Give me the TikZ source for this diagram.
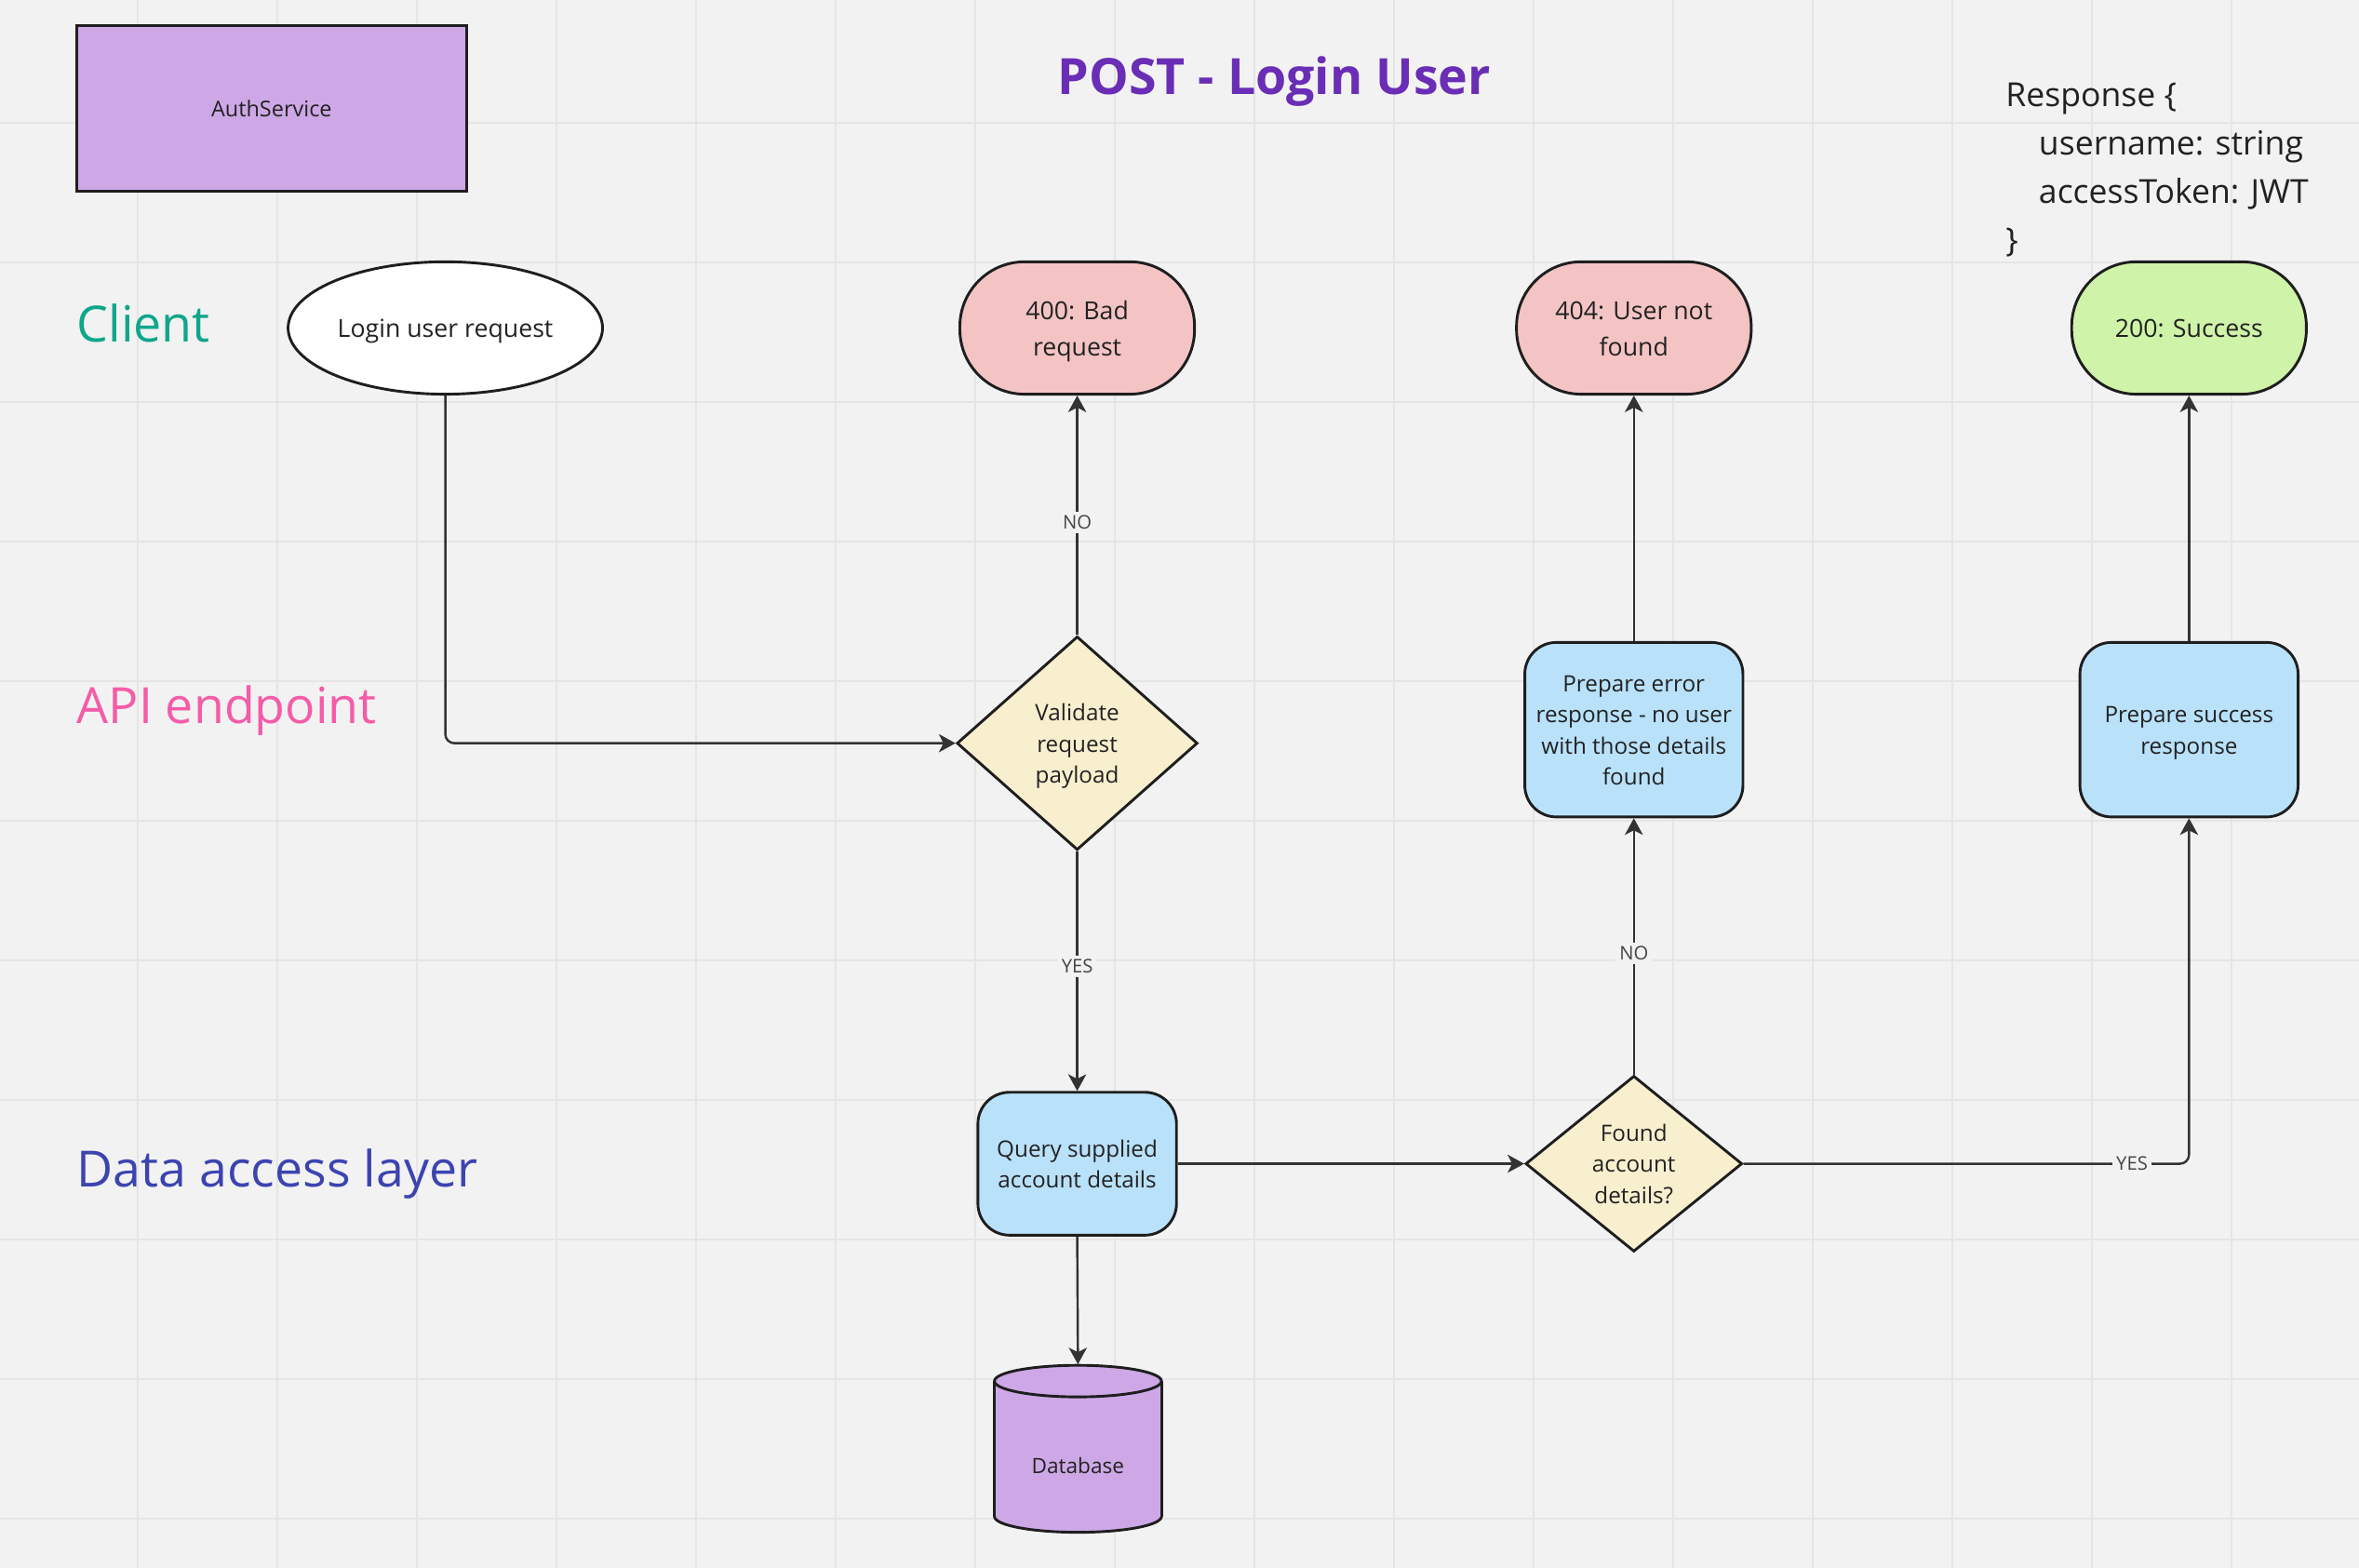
\documentclass[tikz,border=0pt]{standalone}
\usepackage{fontspec}
\setmainfont{Open Sans}
\usetikzlibrary{arrows.meta,shapes.geometric}
\definecolor{bgc}{HTML}{F2F2F2}
\definecolor{gridc}{HTML}{E5E5E5}
\definecolor{linec}{HTML}{1E1E1E}
\definecolor{connc}{HTML}{333333}
\definecolor{textc}{HTML}{222222}
\definecolor{lblc}{HTML}{444444}
\definecolor{violetc}{HTML}{CEA8E6}
\definecolor{redc}{HTML}{F4C4C4}
\definecolor{greenc}{HTML}{CFF3A8}
\definecolor{bluec}{HTML}{B9E1FA}
\definecolor{yellowc}{HTML}{F8EFCE}
\definecolor{titlec}{HTML}{6A2DB5}
\definecolor{clientc}{HTML}{0FA68A}
\definecolor{apic}{HTML}{F45CA8}
\definecolor{datac}{HTML}{3C44B0}
% line box strut: baseline sits 0.388em below the line centre
\newcommand{\mystrut}{\rule[-\dimexpr0.5\baselineskip-0.388em\relax]{0pt}{\baselineskip}}
\begin{document}
\begin{tikzpicture}[x=1pt,y=-1pt,
  shp/.style={draw=linec, line width=1.8pt, text=textc, align=center, inner sep=0pt},
  stadium/.style={shp, rectangle, rounded corners=43pt, minimum width=156pt, minimum height=88pt, font=\fontsize{16.5}{24}\selectfont},
  procbox/.style={shp, rectangle, rounded corners=21pt, fill=bluec, font=\fontsize{15}{20.5}\selectfont},
  decision/.style={shp, diamond, fill=yellowc, font=\fontsize{15}{20.5}\selectfont},
  conn/.style={draw=connc, line width=1.5pt, -{Stealth[length=11pt,width=12pt,inset=3pt]}},
  lbl/.style={fill=bgc, text=lblc, font=\fontsize{12.5}{14}\selectfont, inner sep=2.5pt},
  lane/.style={anchor=base west, font=\fontsize{33.2}{40}\selectfont, inner sep=0pt},
  resp/.style={anchor=base west, font=\fontsize{22}{32}\selectfont, text=textc, inner sep=0pt},
  cylline/.style={draw=linec, line width=1.8pt}
]
% background and grid
\fill[bgc] (0,0) rectangle (1568,1042.2);
\useasboundingbox (0,0) rectangle (1568,1042.2);
\foreach \k in {0,...,15} \draw[gridc, line width=1.3pt] ({91.5+92.78*\k},0) -- ({91.5+92.78*\k},1042.2);
\foreach \k in {0,...,10} \draw[gridc, line width=1.3pt] (0,{81.6+92.78*\k}) -- (1568,{81.6+92.78*\k});

% header items
\node[shp, rectangle, fill=violetc, minimum width=259pt, minimum height=110pt, font=\fontsize{14.5}{17}\selectfont] (auth) at (180.5,72) {\mystrut AuthService};
\node[anchor=base, inner sep=0pt, text=titlec, font=\fontsize{33.2}{40}\selectfont\bfseries] (title) at (847,63) {POST - Login User};
\node[resp] (r1) at (1333,71) {Response \{};
\node[resp] (r2) at (1355,103) {username: string};
\node[resp] (r3) at (1355,135) {accessToken: JWT};
\node[resp] (r4) at (1333,167) {\}};

% lane labels
\node[lane, text=clientc] (laneclient) at (51,227) {Client};
\node[lane, text=apic] (laneapi) at (51,481) {API endpoint};
\node[lane, text=datac] (lanedata) at (51,789) {Data access layer};

% nodes
\node[shp, ellipse, fill=white, minimum width=209pt, minimum height=88pt, font=\fontsize{16.5}{24}\selectfont] (login) at (296,218) {\mystrut Login user request};
\node[stadium, fill=redc] (bad) at (716,218) {\mystrut 400: Bad\\\mystrut request};
\node[stadium, fill=redc] (nf) at (1086,218) {\mystrut 404: User not\\\mystrut found};
\node[stadium, fill=greenc] (ok) at (1455,218) {\mystrut 200: Success};
\node[decision, minimum width=160pt, minimum height=142pt] (val) at (716,494) {\mystrut Validate\\\mystrut request\\\mystrut payload};
\node[procbox, minimum width=145pt, minimum height=116pt] (err) at (1086,485) {\mystrut Prepare error\\\mystrut response - no user\\\mystrut with those details\\\mystrut found};
\node[procbox, minimum width=145pt, minimum height=116pt] (succ) at (1455,485) {\mystrut Prepare success\\\mystrut response};
\node[procbox, minimum width=132pt, minimum height=95pt] (query) at (716,773.5) {\mystrut Query supplied\\\mystrut account details};
\node[decision, minimum width=144pt, minimum height=115pt] (found) at (1086,773.5) {\mystrut Found\\\mystrut account\\\mystrut details?};

% database cylinder
\node[inner sep=0pt, minimum width=111pt, minimum height=112pt] (db) at (716.5,963) {};
\draw[cylline, fill=violetc] (716.5,1008) ellipse (55.5pt and 10.5pt);
\fill[violetc] (661,918) rectangle (772,1008);
\draw[cylline] (661,918) -- (661,1008);
\draw[cylline] (772,918) -- (772,1008);
\draw[cylline, fill=violetc] (716.5,918) ellipse (55.5pt and 10.5pt);
\node[inner sep=0pt, text=textc, font=\fontsize{14}{16}\selectfont] (dblabel) at (716.5,974) {\mystrut Database};

% connectors
\draw[conn, rounded corners=6pt] (login.south) |- (val.west);
\draw[conn] (val.north) -- node[lbl, pos=0.47] {NO} (bad.south);
\draw[conn] (val.south) -- node[lbl, pos=0.48] {YES} (query.north);
\draw[conn] (query.south) -- (db.north);
\draw[conn] (query.east) -- (found.west);
\draw[conn] (found.north) -- node[lbl, pos=0.474] {NO} (err.south);
\draw[conn] (err.north) -- (nf.south);
\draw[conn, rounded corners=6pt] (found.east) -| node[lbl, pos=0.436] {YES} (succ.south);
\draw[conn] (succ.north) -- (ok.south);
\end{tikzpicture}
\end{document}
